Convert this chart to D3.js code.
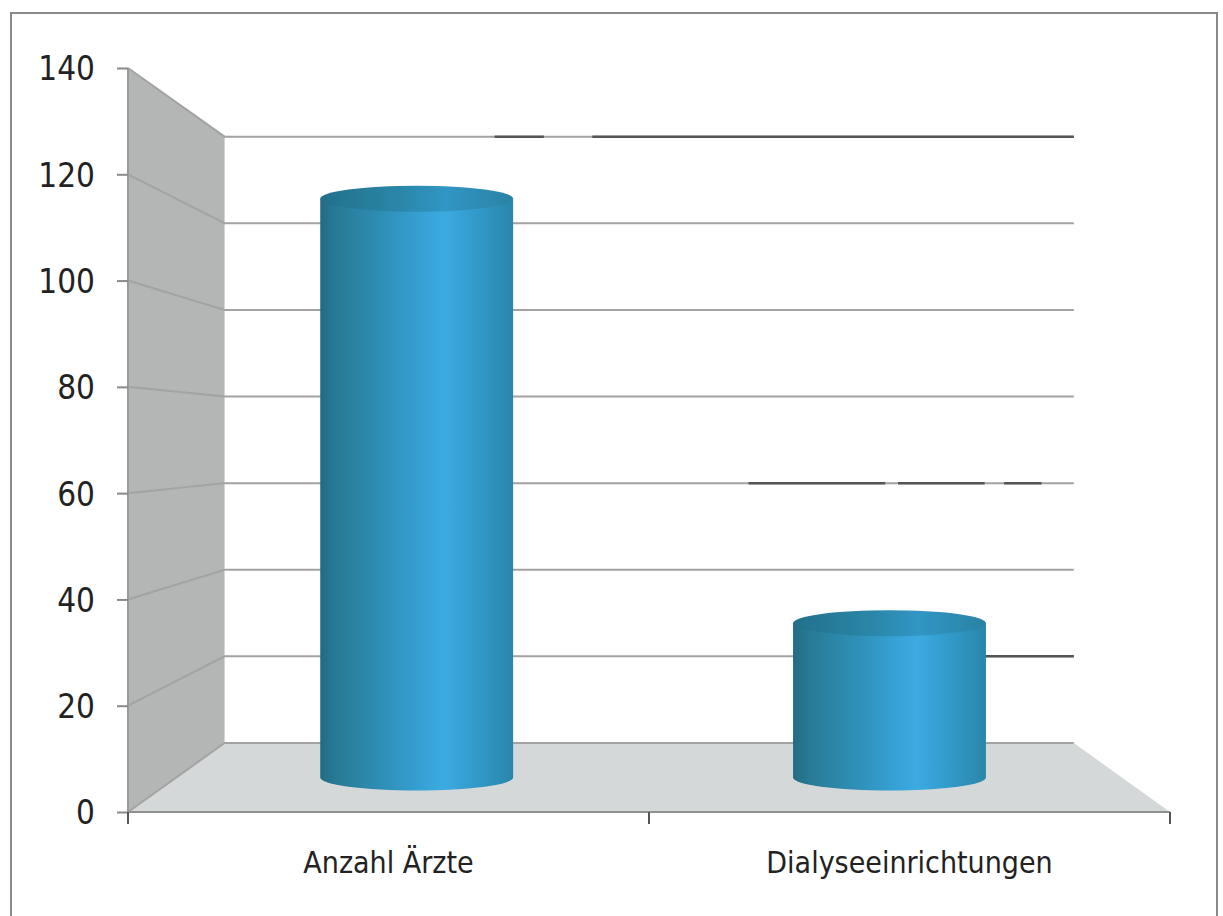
<!DOCTYPE html>
<html lang="de">
<head>
<meta charset="utf-8">
<title>Anzahl Ärzte / Dialyseeinrichtungen</title>
<style>
  body, html { margin: 0; padding: 0; background: #fff; }
  svg { display: block; }
  .tick-label { font-family: "DejaVu Sans Condensed", sans-serif; font-size: 33px; fill: #222; }
  .cat-label { font-family: "DejaVu Sans Condensed", sans-serif; font-size: 30px; fill: #222; }
</style>
<script src="https://d3js.org/d3.v7.min.js"></script>
</head>
<body>
<svg id="chart" width="1223" height="916"></svg>
<script>
// data
var categories = ["Anzahl Ärzte", "Dialyseeinrichtungen"];
var values = [120, 32];
var yTicks = [0, 20, 40, 60, 80, 100, 120, 140];
// darker bits on some gridlines (scan marks): value, start/end as fraction of back wall
var scanMarks = [
  {v: 140, a: 0.318, b: 0.376},
  {v: 140, a: 0.433, b: 1.0},
  {v: 60, a: 0.617, b: 0.778},
  {v: 60, a: 0.793, b: 0.895},
  {v: 60, a: 0.918, b: 0.962},
  {v: 20, a: 0.892, b: 1.0}
];

var svg = d3.select("#chart");

// outer frame
svg.append("rect")
  .attr("x", 11).attr("y", 13)
  .attr("width", 1206).attr("height", 930)
  .attr("fill", "none").attr("stroke", "#8a8a8a").attr("stroke-width", 2);

// front plane scales
var x = d3.scaleBand().domain(categories).range([128, 1170]);
var y = d3.scaleLinear().domain([0, 140]).range([812, 68]);

// simple perspective towards a vanishing point
var vp = [650, 439], k = 0.815;
function proj(px, py, t) {
  var s = 1 - t * (1 - k);
  return [vp[0] + (px - vp[0]) * s, vp[1] + (py - vp[1]) * s];
}

var x0 = x.range()[0], x1 = x.range()[1];
var y0 = y(0), yTop = y(140);

// side wall
var sw = [proj(x0, yTop, 0), proj(x0, yTop, 1), proj(x0, y0, 1), proj(x0, y0, 0)];
svg.append("path")
  .attr("d", "M" + sw.join("L") + "Z")
  .attr("fill", "#b4b6b6");

// floor
var fl = [proj(x0, y0, 0), proj(x0, y0, 1), proj(x1, y0, 1), proj(x1, y0, 0)];
svg.append("path")
  .attr("d", "M" + fl.join("L") + "Z")
  .attr("fill", "#d5d8d8");

// gridlines on back wall + side wall
var grid = svg.append("g").attr("stroke", "#a3a3a3").attr("stroke-width", 2).attr("fill", "none");
yTicks.forEach(function(v) {
  var a = proj(x0, y(v), 0), b = proj(x0, y(v), 1), c = proj(x1, y(v), 1);
  grid.append("path").attr("d", "M" + a + "L" + b + "L" + c);
});

var marks = svg.append("g").attr("stroke", "#555").attr("stroke-width", 2.5);
scanMarks.forEach(function(m) {
  var bl = proj(x0, y(m.v), 1), br = proj(x1, y(m.v), 1);
  marks.append("line")
    .attr("x1", bl[0] + (br[0] - bl[0]) * m.a).attr("x2", bl[0] + (br[0] - bl[0]) * m.b)
    .attr("y1", bl[1]).attr("y2", bl[1]);
});

// y axis
var yAxis = d3.axisLeft(y).tickValues(yTicks).tickSize(11).tickPadding(22);
var ya = svg.append("g").attr("transform", "translate(" + x0 + ",0)").call(yAxis);
ya.select(".domain").attr("stroke", "#9a9a9a").attr("stroke-width", 2).attr("d", "M0," + yTop + "V" + y0);
ya.selectAll(".tick line").attr("stroke", "#8a8a8a").attr("stroke-width", 2);
ya.selectAll(".tick text").attr("class", "tick-label").attr("font-family", null).attr("font-size", null).attr("dy", "0.36em");

// x axis
var xa = svg.append("g").attr("transform", "translate(0," + y0 + ")")
  .call(d3.axisBottom(x).tickSize(0).tickPadding(40));
xa.select(".domain").attr("stroke", "#8f8f8f").attr("stroke-width", 2).attr("d", "M" + x0 + ",0H" + x1);
xa.selectAll(".tick text").attr("class", "cat-label").attr("font-family", null).attr("font-size", null);
var sep = [x0, x0 + x.step(), x1];
xa.selectAll(".sep").data(sep).enter().append("line")
  .attr("x1", function(d) { return d; }).attr("x2", function(d) { return d; })
  .attr("y1", 0).attr("y2", 12)
  .attr("stroke", "#555").attr("stroke-width", 2);

// cylinders
var defs = svg.append("defs");
var g1 = defs.append("linearGradient").attr("id", "cylBody").attr("x1", "0%").attr("x2", "100%");
[["0%", "#236b84"], ["8%", "#287a94"], ["30%", "#2e8db3"], ["55%", "#37a3d8"], ["64%", "#3caae2"], ["82%", "#3199c8"], ["100%", "#2a86aa"]]
  .forEach(function(s) { g1.append("stop").attr("offset", s[0]).attr("stop-color", s[1]); });
var g2 = defs.append("linearGradient").attr("id", "cylTop").attr("x1", "0%").attr("x2", "100%");
[["0%", "#22708a"], ["40%", "#2a86a8"], ["65%", "#3196c4"], ["100%", "#2a82a4"]]
  .forEach(function(s) { g2.append("stop").attr("offset", s[0]).attr("stop-color", s[1]); });

var ry = 13;
categories.forEach(function(c, i) {
  var cx = x(c) + x.bandwidth() / 2, hw = x.bandwidth() * 0.204;
  var L = proj(cx - hw, y(values[i]), 0.5), R = proj(cx + hw, y(values[i]), 0.5);
  var Lb = proj(cx - hw, y(0), 0.5), Rb = proj(cx + hw, y(0), 0.5);
  var rx = (R[0] - L[0]) / 2;
  var cg = svg.append("g").attr("transform", "translate(4,0)");
  cg.append("path")
    .attr("d", "M" + L + "L" + Lb + "A" + rx + "," + ry + " 0 0 0 " + Rb + "L" + R + "Z")
    .attr("fill", "url(#cylBody)");
  cg.append("ellipse")
    .attr("cx", (L[0] + R[0]) / 2).attr("cy", L[1])
    .attr("rx", rx).attr("ry", ry)
    .attr("fill", "url(#cylTop)");
});
</script>
</body>
</html>
